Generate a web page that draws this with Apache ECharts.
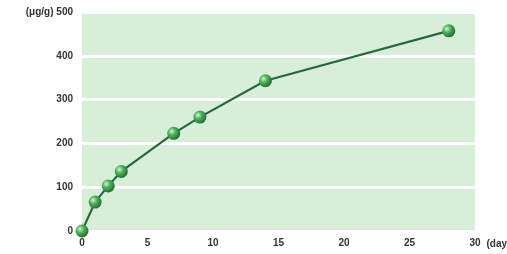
<!DOCTYPE html>
<html>
<head>
<meta charset="utf-8">
<script src="https://cdn.jsdelivr.net/npm/echarts@6/dist/echarts.min.js"></script>
<style>
  html, body { margin: 0; padding: 0; background: #fff; }
  #chart { width: 507px; height: 254px; }
</style>
</head>
<body>
<div id="chart"></div>
<script>
// 天数 / 浓度
var days = [0, 1, 2, 3, 7, 9, 14, 28];
var values = [0, 66, 103, 136, 223, 260, 343, 457];
var xTicks = [0, 5, 10, 15, 20, 25, 30];
var yTicks = [0, 100, 200, 300, 400, 500];

var points = [];
for (var i = 0; i < days.length; i++) {
    points.push([days[i], values[i]]);
}

var chart = echarts.init(document.getElementById("chart"));
var labelFont = { color: '#333', fontSize: 10, fontWeight: 'bold', fontFamily: 'Liberation Sans, Arial, sans-serif' };

option = {
    animation: false,
    grid: {
        left: 82, right: 32, top: 12, bottom: 23,
        outerBoundsMode: 'none',
        containLabel: false,
        show: true,
        backgroundColor: '#d9eed9',
        borderWidth: 0
    },
    xAxis: {
        type: 'value',
        min: xTicks[0],
        max: xTicks[xTicks.length - 1],
        interval: 5,
        name: '(days)',
        nameLocation: 'end',
        nameGap: 2,
        nameTextStyle: Object.assign({ verticalAlign: 'top', padding: [8, 0, 0, 0] }, labelFont),
        axisLine: { show: false },
        axisTick: { show: false },
        splitLine: { show: false },
        axisLabel: Object.assign({ margin: 7 }, labelFont)
    },
    yAxis: {
        type: 'value',
        min: yTicks[0],
        max: yTicks[yTicks.length - 1],
        interval: 100,
        axisLine: { show: false },
        axisTick: { show: false },
        splitLine: { show: true, lineStyle: { color: '#ffffff', width: 3 } },
        axisLabel: Object.assign({
            margin: 9,
            formatter: function (v) { return v === 500 ? '(μg/g) 500' : v; }
        }, labelFont)
    },
    series: [{
        type: 'line',
        data: points,
        symbol: 'circle',
        symbolSize: 13,
        lineStyle: { color: '#236b3a', width: 2.2 },
        itemStyle: {
            color: new echarts.graphic.RadialGradient(0.35, 0.35, 0.7, [
                { offset: 0, color: '#d6f5d6' },
                { offset: 0.4, color: '#4fb35c' },
                { offset: 1, color: '#1c6a2c' }
            ]),
            borderWidth: 0
        }
    }]
};
chart.setOption(option);
</script>
</body>
</html>
